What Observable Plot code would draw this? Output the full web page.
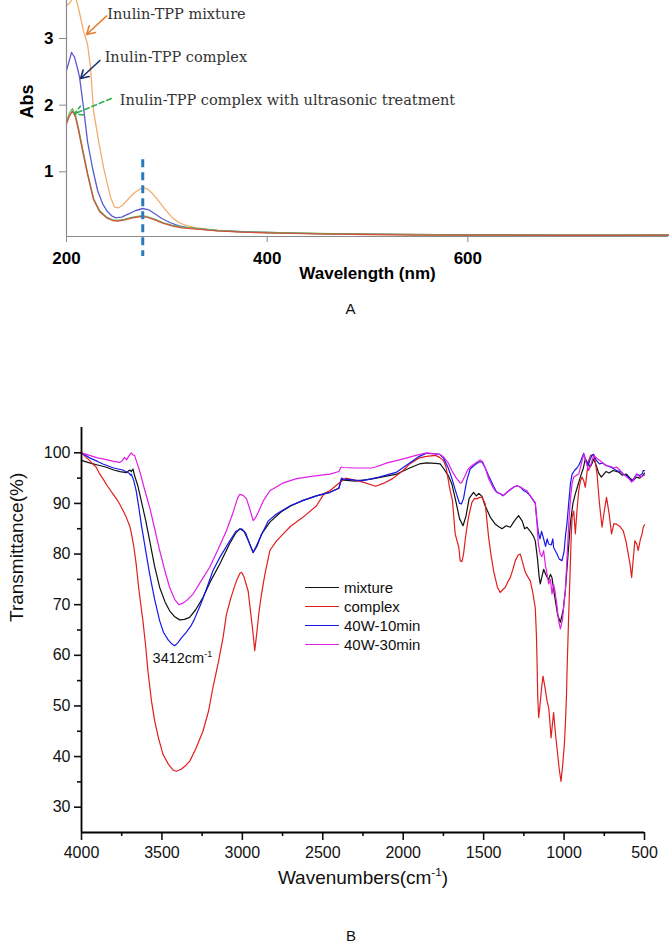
<!DOCTYPE html>
<html><head><meta charset="utf-8">
<script src="https://cdn.jsdelivr.net/npm/d3@7"></script>
<script src="https://cdn.jsdelivr.net/npm/@observablehq/plot@0.6"></script>
<style>
body{margin:0;background:#fff;}
#wrap{position:relative;width:669px;height:943px;overflow:hidden;font-family:"Liberation Sans",Arial,sans-serif;}
#wrap svg{display:block;}
#legend{position:absolute;left:305px;top:578px;font-size:15px;color:#111;font-family:"Liberation Sans",Arial,sans-serif;}
.row{display:flex;align-items:center;height:18.9px;}
.sw{width:34px;height:0;border-top:1.6px solid;margin-right:5px;}
</style></head><body><div id="wrap"></div>
<script>
// ---------- Panel A : UV-Vis (wavelength nm, absorbance) ----------
const uvXTicks = [200, 400, 600];
const uvYTicks = [1, 2, 3];
const uvMixture = [[200,3.49],[203,3.53],[206,3.6],[209,3.62],[212,3.45],[215,3.25],[217,3.11],[221,2.91],[224,2.56],[227,1.91],[232,1.46],[237,1.06],[241,0.8],[244,0.61],[248,0.47],[252,0.46],[256,0.5],[262,0.6],[268,0.69],[273,0.74],[277,0.76],[281,0.74],[286,0.67],[292,0.56],[298,0.44],[305,0.32],[312,0.24],[320,0.19],[330,0.16],[345,0.13],[360,0.115],[380,0.1],[400,0.09],[430,0.078],[460,0.072],[500,0.065],[550,0.06],[600,0.055],[650,0.054],[700,0.05],[750,0.05],[800,0.05]];
const uvComplex = [[200,2.52],[203,2.68],[205,2.79],[208,2.72],[211,2.55],[213,2.42],[217,1.96],[221,1.45],[226,1.05],[231,0.72],[236,0.52],[241,0.4],[245,0.34],[249,0.31],[255,0.32],[262,0.37],[269,0.42],[276,0.45],[282,0.43],[288,0.37],[295,0.3],[303,0.24],[312,0.19],[322,0.16],[335,0.14],[350,0.12],[370,0.105],[400,0.09],[450,0.072],[500,0.065],[600,0.055],[700,0.05],[800,0.05]];
const uvSonicA = [[200,1.76],[203,1.88],[206,1.95],[209,1.85],[212,1.65],[216,1.35],[221,0.98],[227,0.6],[233,0.42],[240,0.32],[246,0.28],[251,0.27],[258,0.29],[266,0.32],[274,0.34],[280,0.33],[288,0.29],[296,0.24],[305,0.2],[315,0.17],[330,0.15],[350,0.12],[375,0.1],[400,0.09],[450,0.075],[500,0.065],[550,0.058],[600,0.055],[700,0.052],[800,0.055]];
const uvSonicB = [[200,1.72],[203,1.84],[206,1.91],[209,1.82],[212,1.62],[216,1.32],[221,0.96],[227,0.58],[233,0.4],[240,0.31],[246,0.27],[251,0.26],[258,0.28],[266,0.31],[274,0.33],[280,0.32],[288,0.28],[296,0.23],[305,0.19],[315,0.16],[330,0.14],[350,0.115],[375,0.095],[400,0.085],[450,0.07],[500,0.06],[550,0.052],[600,0.05],[700,0.048],[800,0.05]];
const uvNoteLabels = ["Inulin-TPP mixture", "Inulin-TPP complex", "Inulin-TPP complex with ultrasonic treatment"];
const uvNoteX = [240.6, 238, 253];
const uvNoteY = [3.36, 2.71, 2.07];
const uvArrowFrom = [[240, 3.34], [233.3, 2.67], [244.6, 2.10]];
const uvArrowTo = [[220, 3.06], [214, 2.40], [208, 1.87]];
const uvMarkerWavelength = [276];
const uvMarkerSpan = [1.18, -0.27];

// ---------- Panel B : FTIR (wavenumber cm-1, transmittance %) ----------
const irLabels = ["mixture", "complex", "40W-10min", "40W-30min"];
const irMajorX = [4000, 3500, 3000, 2500, 2000, 1500, 1000, 500];
const irMinorX = [3750, 3250, 2750, 2250, 1750, 1250, 750];
const irMajorY = [30, 40, 50, 60, 70, 80, 90, 100];
const irMinorY = [35, 45, 55, 65, 75, 85, 95];
const irMixture = [[4000,98.5],[3950,98],[3900,97.6],[3850,97.2],[3800,96.6],[3760,96.3],[3720,96.1],[3700,96.6],[3690,96.3],[3680,96.8],[3670,95.5],[3650,93.5],[3629,90.6],[3600,86.5],[3576,82.6],[3545,77.5],[3514,73.4],[3480,70.5],[3452,68.8],[3420,67.6],[3390,67],[3360,67.1],[3328,67.5],[3290,69],[3245,71.4],[3200,74.5],[3141,78],[3080,82],[3040,84.2],[3016,85],[2990,84.5],[2960,82.5],[2933,80.3],[2910,81.5],[2880,84],[2829,86.3],[2760,88.3],[2700,89.5],[2622,90.6],[2540,91.5],[2456,92.2],[2400,93],[2384,94.8],[2370,94.6],[2300,94.4],[2200,94.8],[2120,95.3],[2040,95.8],[1960,97],[1900,97.8],[1854,98],[1800,97.9],[1770,97.8],[1747,96.8],[1720,95.5],[1698,93.9],[1670,90],[1650,87],[1628,85.6],[1610,87.5],[1590,91],[1563,92.2],[1545,91.5],[1530,92],[1510,91.4],[1490,89.5],[1459,87.3],[1430,86],[1410,85.5],[1386,85],[1360,85.6],[1334,85.3],[1310,86.5],[1283,87.6],[1260,86.5],[1245,85],[1231,85.3],[1210,84.5],[1190,83.5],[1179,82.6],[1165,79],[1155,75.5],[1148,74.1],[1138,75.5],[1127,77],[1115,76],[1096,74.9],[1085,76],[1075,75.3],[1060,72],[1040,68],[1023,66.5],[1005,69],[992,72.8],[975,80],[961,86],[945,90],[930,91.9],[915,93.5],[899,95.2],[880,97],[868,98.8],[850,97.8],[837,97.2],[825,98],[816,98.8],[800,97.5],[785,96],[768,95.2],[740,96.3],[720,96],[695,96.5],[660,96.2],[640,95.6],[612,95.8],[590,95],[570,94.5],[550,95.2],[530,95],[508,95.6],[500,96]];
const irComplex = [[4000,100],[3975,99.2],[3950,98.5],[3930,97.8],[3909,97.2],[3890,96],[3867,94.9],[3840,93.5],[3805,91.9],[3780,90.8],[3763,89.9],[3740,88.5],[3722,87.3],[3700,85.5],[3691,84.3],[3675,81.5],[3660,78],[3645,73.5],[3629,69.4],[3618,66.8],[3600,61.5],[3587,56.9],[3565,51],[3545,47],[3520,43.5],[3493,40.4],[3460,38.5],[3430,37.3],[3410,37.1],[3380,37.5],[3350,38.3],[3327,39.1],[3290,41.5],[3245,45],[3210,49],[3183,53.6],[3150,58.5],[3120,63.5],[3099,68.1],[3070,71.5],[3037,74.7],[3015,76.2],[3005,76.4],[2990,75.5],[2964,72.7],[2945,67.5],[2933,64.2],[2923,60.9],[2910,64.5],[2895,69],[2881,72.1],[2860,76],[2829,80.7],[2790,82.5],[2746,84],[2700,85.5],[2622,87.3],[2540,89.5],[2491,92],[2456,92.5],[2400,94],[2358,95],[2300,94.6],[2250,94.2],[2172,93.4],[2120,94],[2066,94.9],[2000,96.5],[1960,97.8],[1900,99],[1854,99.3],[1800,99.5],[1774,99.1],[1750,98.5],[1734,97.2],[1708,92.5],[1694,90.6],[1677,84],[1654,81.3],[1646,78.7],[1635,78.5],[1625,80],[1610,84],[1594,87.3],[1573,90.2],[1556,91],[1542,90.9],[1525,91.2],[1510,91.2],[1490,89.9],[1469,83.3],[1455,80],[1438,76.7],[1415,73.5],[1397,72.4],[1380,73],[1366,73.4],[1350,74.5],[1334,75.4],[1318,77],[1303,78.7],[1285,79.8],[1272,80],[1255,78],[1241,76.4],[1225,75.5],[1210,74.7],[1195,72.5],[1179,69.4],[1172,64],[1168,58.9],[1164,52],[1158,47.7],[1150,50],[1140,53.5],[1131,55.9],[1118,53.5],[1106,51],[1095,49.5],[1086,46],[1081,43.7],[1072,46.5],[1065,48.7],[1055,45],[1044,41.7],[1030,37.5],[1019,35.1],[1008,38.5],[998,42.5],[992,46.4],[985,52],[982,56.3],[976,62.9],[971,68.1],[962,77],[955,84],[950,87.3],[940,88.5],[930,84],[920,88.5],[909,92.5],[898,94.5],[888,95.2],[878,94.5],[868,93.2],[858,96],[847,98.5],[835,99.5],[816,99.5],[805,98],[795,95.8],[780,90],[764,85.3],[750,88.5],[736,91.2],[720,88],[705,84],[690,86],[674,85.9],[655,85.5],[632,84.6],[615,82.5],[601,80],[590,78],[580,75.4],[570,79],[560,82.6],[548,82],[539,80.7],[525,83],[515,84],[508,85.3],[500,85.8]];
const ir10min = [[4000,100],[3950,99],[3900,98.3],[3867,97.8],[3800,97],[3743,96.6],[3720,96.2],[3705,96],[3695,95.6],[3691,95.8],[3675,94.5],[3660,92.5],[3645,89.5],[3629,86],[3600,80.5],[3576,76],[3545,71],[3514,66.8],[3490,64.5],[3460,63],[3440,62.3],[3421,61.9],[3400,62.5],[3380,63.4],[3350,64.5],[3320,65.8],[3300,67],[3260,70],[3230,72.5],[3183,76.7],[3141,79.3],[3078,82.6],[3040,84.5],[3005,85],[2980,84.2],[2955,82],[2933,80.3],[2910,81.8],[2881,83.8],[2840,86.5],[2788,87.9],[2700,89.6],[2622,90.6],[2540,91.5],[2456,92.2],[2400,93],[2384,95],[2370,94.8],[2300,94.6],[2252,94.5],[2150,95.2],[2040,96.2],[1960,98],[1900,99.3],[1854,99.9],[1800,99.8],[1774,99.7],[1750,99],[1720,97],[1698,95],[1670,92],[1650,90],[1638,89.9],[1625,91],[1605,94.5],[1584,96.8],[1560,97.5],[1530,98.2],[1510,98.2],[1490,97],[1470,95.5],[1440,93.5],[1420,92.3],[1397,91.9],[1380,91.5],[1355,92.2],[1330,92.8],[1310,93.3],[1293,93.5],[1270,93.2],[1250,92.5],[1231,92.2],[1210,91.5],[1190,90.5],[1179,90],[1170,87],[1160,84.3],[1150,83],[1140,84.5],[1127,83],[1115,81.5],[1105,83],[1096,82],[1080,81.8],[1070,83],[1065,81.3],[1044,80],[1030,79],[1013,78.7],[1000,80.5],[990,84],[982,86],[970,90.5],[960,94],[950,95.8],[935,96.5],[920,97],[909,97.5],[895,98.5],[878,99.9],[865,98.5],[850,97.5],[840,98.5],[825,99.6],[816,99.7],[800,98.5],[780,97.8],[760,98],[740,97.5],[720,97.3],[700,97],[674,96.5],[650,96.3],[632,95.8],[610,95.5],[595,95],[580,94.4],[565,95],[549,95.8],[530,95.5],[515,95.8],[508,96.5],[500,96.5]];
const ir30min = [[4000,100],[3950,99.5],[3900,99],[3867,98.8],[3800,98.3],[3763,98.1],[3745,98.5],[3732,99.1],[3720,98.6],[3705,99.4],[3691,100],[3680,99.6],[3670,99.5],[3655,98],[3639,96.5],[3610,93],[3576,89.2],[3545,85],[3514,80.7],[3480,76.5],[3452,73.4],[3420,71],[3395,70],[3370,70.3],[3340,71],[3307,72.1],[3260,74.5],[3203,77.4],[3150,81],[3099,84.6],[3060,88],[3030,91],[3016,91.8],[2995,91.6],[2974,90.9],[2950,88.5],[2933,86.6],[2918,87.2],[2902,88.2],[2870,90.5],[2829,92.5],[2750,94],[2663,94.9],[2560,95.4],[2456,95.8],[2400,96.3],[2386,97.2],[2370,97.1],[2300,97],[2200,97],[2172,97.2],[2100,98],[2000,98.8],[1920,99.5],[1854,100],[1800,99.8],[1774,99.7],[1750,99.2],[1720,98],[1698,96.5],[1670,95],[1645,94],[1635,94.2],[1615,95.5],[1600,96.6],[1584,97.2],[1550,98],[1521,98.6],[1505,98.2],[1490,97],[1470,95],[1440,93],[1420,92.2],[1397,91.9],[1375,91.6],[1355,92.2],[1330,92.9],[1310,93.3],[1293,93.5],[1270,93.2],[1250,92.8],[1231,92.5],[1210,91.5],[1190,90.6],[1179,90.2],[1168,86],[1160,82],[1148,80],[1138,79.5],[1127,80.7],[1115,77.5],[1105,76],[1096,74.1],[1085,75],[1075,72.1],[1065,74],[1058,73],[1045,70],[1035,67],[1023,65.2],[1010,67],[1000,70.5],[992,72.8],[982,79],[971,86],[960,91],[950,94],[940,95.2],[925,95.5],[909,95.8],[895,97.5],[878,99.8],[862,98],[847,96.5],[830,98],[816,99.5],[800,99],[778,98.5],[760,98],[736,97.5],[710,97.3],[690,97],[674,97.2],[650,96.5],[632,95.8],[610,95.2],[595,94.8],[580,94.2],[565,94.8],[549,95.8],[530,95.3],[515,95.3],[508,95.5],[500,95.6]];
const irPeakLabel = ["3412cm-1"];
const irPeakX = [3558];
const irPeakY = [59.3];

// ---------- styles (kept apart from the data) ----------
const uvColors = ["#f2ad6e", "#5b5bd2", "#5cc25c", "#d2533f"];
const uvArrowColors = ["#e57f33", "#1d2f6f", "#2fae4d"];
const irColors = ["#111111", "#e01e1e", "#1818e8", "#e01ee6"];
const plain = d => String(d);

const wrap = document.getElementById("wrap");

// ----- Panel A -----
const uvSeries = [uvMixture, uvComplex, uvSonicA, uvSonicB];
const notes = uvNoteLabels.map((t, i) => ({t, x: uvNoteX[i], y: uvNoteY[i]}));
const arrows = uvArrowFrom.map((f, i) => ({x1: f[0], y1: f[1], x2: uvArrowTo[i][0], y2: uvArrowTo[i][1]}));
const uvFont = "'Liberation Sans', Arial, sans-serif";
const plotA = Plot.plot({
  width: 669, height: 330,
  marginLeft: 66, marginRight: 1, marginTop: 0, marginBottom: 94,
  x: {domain: [200, 800]},
  y: {domain: [0.03, 3.57]},
  style: {fontFamily: uvFont, color: "#000", background: "transparent", overflow: "hidden"},
  marks: [
    ...uvSeries.map((s, i) => Plot.line(s, {x: d => d[0], y: d => d[1], stroke: uvColors[i], strokeWidth: 1.3})),
    Plot.ruleX([200], {stroke: "#8a8a8a", strokeWidth: 1.2}),
    Plot.ruleY([0.03], {stroke: "#8a8a8a", strokeWidth: 1.2}),
    Plot.axisX({ticks: uvXTicks, tickSize: 6, text: null, label: null, stroke: "#8a8a8a"}),
    Plot.axisX({ticks: uvXTicks, tickFormat: plain, tickSize: 0, tickPadding: 15, label: null, fontSize: 17, fontWeight: "bold", fill: "#000"}),
    Plot.axisY({ticks: uvYTicks, tickSize: 7, text: null, label: null, stroke: "#8a8a8a"}),
    Plot.axisY({ticks: uvYTicks, tickFormat: plain, tickSize: 0, tickPadding: 13, label: null, fontSize: 17, fontWeight: "bold", fill: "#000"}),
    Plot.ruleX(uvMarkerWavelength, {y1: uvMarkerSpan[0], y2: uvMarkerSpan[1], stroke: "#2879c0", strokeWidth: 3, strokeDasharray: "8,5"}),
    Plot.arrow(arrows.slice(0, 1), {x1: "x1", y1: "y1", x2: "x2", y2: "y2", stroke: uvArrowColors[0], strokeWidth: 1.6, headLength: 9}),
    Plot.arrow(arrows.slice(1, 2), {x1: "x1", y1: "y1", x2: "x2", y2: "y2", stroke: uvArrowColors[1], strokeWidth: 1.6, headLength: 9}),
    Plot.arrow(arrows.slice(2, 3), {x1: "x1", y1: "y1", x2: "x2", y2: "y2", stroke: uvArrowColors[2], strokeWidth: 1.6, headLength: 9, strokeDasharray: "5,3"}),
    Plot.text(notes, {x: "x", y: "y", text: "t", textAnchor: "start", fontFamily: "'DejaVu Serif', serif", fontSize: 14.5, fill: "#333"}),
    Plot.text(["Abs"], {frameAnchor: "left", dx: -39, rotate: -90, fontSize: 18, fontWeight: "bold", fill: "#000"}),
    Plot.text(["Wavelength (nm)"], {frameAnchor: "bottom", dy: 42, fontSize: 17, fontWeight: "bold", fill: "#000"}),
    Plot.text(["A"], {frameAnchor: "bottom", dx: -17, dy: 77, fontSize: 15, fill: "#111"})
  ]
});
wrap.appendChild(plotA);

// ----- Panel B -----
const irSeries = [irMixture, irComplex, ir10min, ir30min];
const peak = irPeakLabel.map((t, i) => ({t, x: irPeakX[i], y: irPeakY[i]}));
const plotB = Plot.plot({
  width: 669, height: 613,
  marginLeft: 81, marginRight: 25, marginTop: 97, marginBottom: 111,
  x: {domain: [4000, 500]},
  y: {domain: [25, 105]},
  style: {fontFamily: uvFont, color: "#111", background: "transparent"},
  marks: [
    ...irSeries.map((s, i) => Plot.line(s, {x: d => d[0], y: d => d[1], stroke: irColors[i], strokeWidth: 1.2})),
    Plot.axisY({ticks: irMajorY, tickFormat: plain, tickSize: 7, tickPadding: 4, label: null, fontSize: 16, strokeWidth: 1.6}),
    Plot.axisY({ticks: irMinorY, tickSize: 4, text: null, label: null, strokeWidth: 1.6}),
    Plot.axisX({ticks: irMajorX, tickFormat: plain, tickSize: 8, tickPadding: 6, label: null, fontSize: 16, strokeWidth: 1.6}),
    Plot.axisX({ticks: irMinorX, tickSize: 4, text: null, label: null, strokeWidth: 1.6}),
    Plot.ruleX([4000], {stroke: "#000", strokeWidth: 1.8}),
    Plot.ruleY([25], {stroke: "#000", strokeWidth: 1.8}),
    Plot.text(peak, {x: "x", y: "y", text: "t", textAnchor: "start", fontSize: 14.5, fill: "#111"}),
    Plot.text(["Transmittance(%)"], {frameAnchor: "left", dx: -65, dy: -8, rotate: -90, fontSize: 19, fill: "#111"}),
    Plot.text(["Wavenumbers(cm-1)"], {frameAnchor: "bottom", dy: 51, fontSize: 19, fill: "#111"}),
    Plot.text(["B"], {frameAnchor: "bottom", dx: -12, dy: 108, fontSize: 15, fill: "#111"})
  ]
});
wrap.appendChild(plotB);

// superscript "-1" in cm-1 texts
function supify(svg, size) {
  d3.select(svg).selectAll("text").each(function () {
    const t = this.textContent;
    if (!t.includes("cm-1") || this.querySelector("tspan.sup")) return;
    const [a, b] = t.split("cm-1");
    const fs = parseFloat(getComputedStyle(this).fontSize) || size;
    const sel = d3.select(this);
    sel.text(null);
    sel.append("tspan").text(a + "cm");
    sel.append("tspan").attr("class", "sup").attr("dy", -fs * 0.42).attr("font-size", fs * 0.62).text("-1");
    if (b) sel.append("tspan").attr("dy", fs * 0.42).text(b);
  });
}
supify(plotB, 16);

// legend for panel B
const legend = document.createElement("div");
legend.id = "legend";
irLabels.forEach((lab, i) => {
  const row = document.createElement("div");
  row.className = "row";
  const sw = document.createElement("span");
  sw.className = "sw";
  sw.style.borderTopColor = irColors[i];
  const tx = document.createElement("span");
  tx.textContent = lab;
  row.appendChild(sw); row.appendChild(tx);
  legend.appendChild(row);
});
wrap.appendChild(legend);
</script>
</body></html>
